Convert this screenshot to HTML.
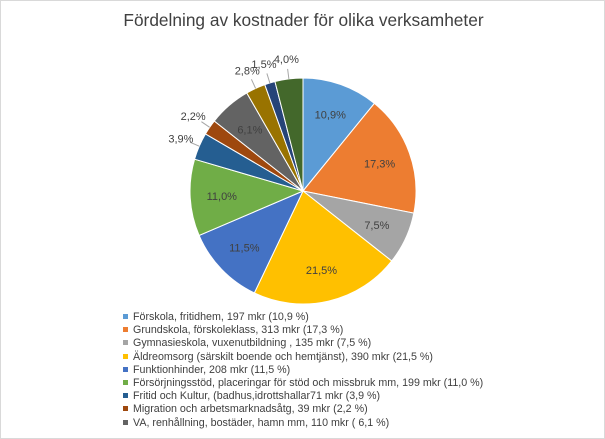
<!DOCTYPE html>
<html><head><meta charset="utf-8"><style>
body{margin:0;background:#fff;font-family:"Liberation Sans",sans-serif}
#wrap{position:relative;width:605px;height:439px;border:1px solid #d9d9d9;box-sizing:border-box;overflow:hidden}
.t{position:absolute;top:9px;left:0;width:605px;text-align:center;font-size:17.3px;color:#404040}
.leg{position:absolute;left:122px;font-size:10.7px;color:#404040;white-space:nowrap}
.leg i{display:inline-block;width:5px;height:5px;margin-right:5px;vertical-align:1px}
</style></head><body>
<div id="wrap">
<div class="t">Fördelning av kostnader för olika verksamheter</div>
<svg id="pie" width="605" height="439" style="position:absolute;left:0;top:0"></svg>
<div id="legend"></div>
</div>
<script>
const categories=["Förskola, fritidhem, 197 mkr (10,9 %)","Grundskola, förskoleklass, 313 mkr (17,3 %)","Gymnasieskola, vuxenutbildning , 135 mkr (7,5 %)","Äldreomsorg (särskilt boende och hemtjänst), 390 mkr (21,5 %)","Funktionhinder, 208 mkr (11,5 %)","Försörjningsstöd, placeringar för stöd och missbruk mm, 199 mkr (11,0 %)","Fritid och Kultur, (badhus,idrottshallar71 mkr (3,9 %)","Migration och arbetsmarknadsåtg, 39 mkr (2,2 %)","VA, renhållning, bostäder, hamn mm, 110 mkr ( 6,1 %)","Övrigt 1","Övrigt 2","Övrigt 3"];
const values=[10.9,17.3,7.5,21.5,11.5,11.0,3.9,2.2,6.1,2.8,1.5,4.0];
const labels=["10,9%","17,3%","7,5%","21,5%","11,5%","11,0%","3,9%","2,2%","6,1%","2,8%","1,5%","4,0%"];
const colors=["#5b9bd5","#ed7d31","#a5a5a5","#ffc000","#4472c4","#70ad47","#255e91","#9e480e","#636363","#997300","#264478","#43682b"];
const legendCount=9;
const cx=302,cy=190,r=113;
const svg=document.getElementById('pie');
const NS="http://www.w3.org/2000/svg";
const total=values.reduce((a,b)=>a+b,0);
let a0=0;
function pt(a,rad){return [cx+rad*Math.sin(a),cy-rad*Math.cos(a)];}
values.forEach((v,i)=>{
 const a1=a0+v/total*2*Math.PI;
 const p0=pt(a0,r),p1=pt(a1,r);
 const path=document.createElementNS(NS,'path');
 path.setAttribute('d',`M${cx},${cy}L${p0[0]},${p0[1]}A${r},${r} 0 ${a1-a0>Math.PI?1:0} 1 ${p1[0]},${p1[1]}Z`);
 path.setAttribute('fill',colors[i]);path.setAttribute('stroke','#fff');path.setAttribute('stroke-width','1');
 
 
 svg.appendChild(path);
 const am=(a0+a1)/2;
 const small=v<5;
 const lp=pt(am,small?r+20:r*0.72);
 if(small){
  const e=pt(am,r),m=pt(am,r+10);
  const ln=document.createElementNS(NS,'polyline');
  ln.setAttribute('points',`${e[0]},${e[1]} ${m[0]},${m[1]}`);
  ln.setAttribute('stroke','#a6a6a6');ln.setAttribute('fill','none');
  
  
  svg.appendChild(ln);
 }
 const t=document.createElementNS(NS,'text');
 t.setAttribute('x',lp[0]);t.setAttribute('y',lp[1]+4);
 t.setAttribute('text-anchor','middle');t.setAttribute('font-size','11');t.setAttribute('fill','#404040');
 t.setAttribute('font-family','Liberation Sans, sans-serif');
 t.textContent=labels[i];
 
 
 svg.appendChild(t);
 a0=a1;
});
const lg=document.getElementById('legend');
for(let i=0;i<legendCount;i++){
 const d=document.createElement('div');d.className='leg';d.style.top=(310+i*13.2)+'px';
 d.innerHTML='<i style="background:'+colors[i]+'"></i>'+categories[i];
 
 
 lg.appendChild(d);
}
</script>
</body></html>
